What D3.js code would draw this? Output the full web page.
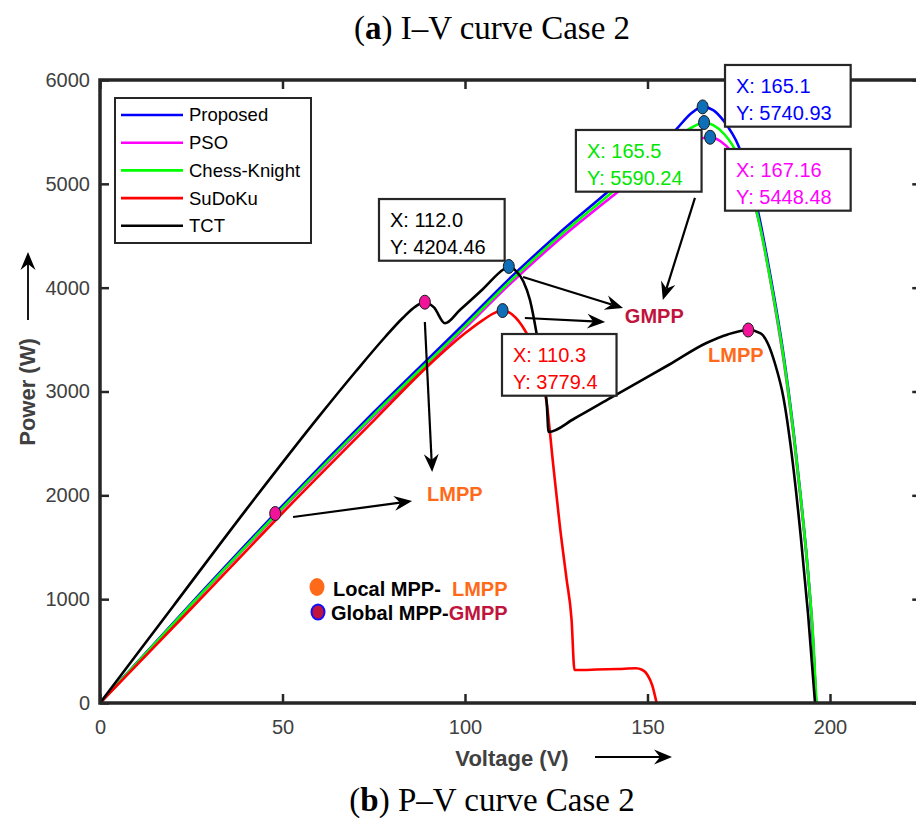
<!DOCTYPE html>
<html>
<head>
<meta charset="utf-8">
<script src="https://cdn.jsdelivr.net/npm/d3@7"></script>
<style>
  body { margin: 0; background: #fff; }
  svg text { font-family: "Liberation Sans", Arial, sans-serif; }
</style>
</head>
<body>
<svg id="chart" width="916" height="825"></svg>
<script>
// ---- P–V characteristics, Case 2 ----
const seriesNames = ["Proposed", "PSO", "Chess-Knight", "SuDoKu", "TCT"];

const proposedV = [0, 25, 50, 75, 100, 112, 125, 140, 150, 158, 162, 165.1, 168, 171, 175, 180, 184, 187, 190, 192, 194, 195.3, 196.2];
const proposedP = [0, 960, 1900, 2800, 3660, 4080, 4500, 4950, 5260, 5530, 5680, 5740.93, 5710, 5600, 5360, 4780, 4050, 3420, 2620, 1980, 1250, 620, 0];

const psoV = [0, 25, 50, 75, 100, 112, 125, 140, 150, 158, 163, 167.16, 170, 173, 177, 181, 184.5, 187.5, 190, 192, 194, 195.4, 196.2];
const psoP = [0, 945, 1870, 2760, 3610, 4025, 4440, 4870, 5150, 5340, 5420, 5448.48, 5410, 5310, 5060, 4560, 3900, 3250, 2580, 1950, 1240, 600, 0];

const chessV = [0, 25, 50, 75, 100, 112, 125, 140, 150, 158, 162, 165.5, 168, 171, 175, 180, 184, 187, 190, 192, 194, 195.4, 196.3];
const chessP = [0, 950, 1880, 2775, 3630, 4050, 4470, 4910, 5210, 5440, 5540, 5590.24, 5565, 5480, 5260, 4720, 4010, 3390, 2600, 1970, 1250, 610, 0];

const sudokuV = [0, 25, 50, 75, 90, 100, 105, 108, 110.3, 113, 116.4, 119, 121, 122.4, 124, 126, 127.8, 129.2, 130, 136, 142, 146.8, 148.5, 150, 151.3, 152.5];
const sudokuP = [0, 910, 1830, 2720, 3250, 3560, 3690, 3755, 3779.4, 3740, 3590, 3400, 3130, 2886, 2350, 1700, 1200, 800, 318, 322, 328, 334, 320, 270, 170, 0];

const tctV = [0, 20, 40, 60, 70, 78, 83, 86.5, 89, 91.5, 94.5, 98.6, 105, 110.5, 112, 114, 116, 117.8, 119.6, 121.2, 122.4, 122.9, 130, 140, 148, 156, 166, 172, 177.6, 181, 183, 185, 187.2, 189.5, 192, 194, 195.9];
const tctP = [0, 930, 1860, 2760, 3190, 3520, 3710, 3820, 3860, 3810, 3657, 3785, 3990, 4175, 4204.46, 4160, 4060, 3881, 3561, 3200, 2886, 2610, 2740, 2940, 3100, 3260, 3465, 3550, 3592, 3560, 3460, 3260, 2950, 2400, 1600, 850, 0];

// data tips (global peaks) : series index, voltage, power
const tipSeries = [0, 2, 1, 4, 3];
const tipV = [165.1, 165.5, 167.16, 112.0, 110.3];
const tipP = [5740.93, 5590.24, 5448.48, 4204.46, 3779.4];
const tipVText = ["165.1", "165.5", "167.16", "112.0", "110.3"];
const tipPText = ["5740.93", "5590.24", "5448.48", "4204.46", "3779.4"];

// local maxima
const lmppV = [48, 89, 177.6];
const lmppP = [1825, 3860, 3592];

const xTicks = [0, 50, 100, 150, 200];
const yTicks = [0, 1000, 2000, 3000, 4000, 5000, 6000];

// ---- styling ----
const colors = ["#0000FF", "#FF00FF", "#00FF00", "#FF0000", "#000000"];
const tipTextColors = ["#0000FF", "#00E600", "#FF00FF", "#000000", "#FF0000"];
const axisColor = "#262626";
const labelColor = "#404040";
const tipMarkerFill = "#0E6EB8";
const lmppMarkerFill = "#F2139B";
const lmppColor = "#FF6A1A";
const gmppColor = "#C0143C";

const series = [
  { v: proposedV, p: proposedP },
  { v: psoV, p: psoP },
  { v: chessV, p: chessP },
  { v: sudokuV, p: sudokuP },
  { v: tctV, p: tctP }
];

const svg = d3.select("#chart");
svg.append("rect").attr("width", 916).attr("height", 825).attr("fill", "#fff");

const x = d3.scaleLinear().domain([0, 225]).range([100, 921.25]);
const y = d3.scaleLinear().domain([0, 6000]).range([703, 80]);

// titles
svg.append("text")
  .attr("x", 492).attr("y", 39).attr("text-anchor", "middle")
  .style("font-family", "'Liberation Serif', serif").style("font-size", "33px").attr("fill", "#000")
  .html('(<tspan font-weight="bold">a</tspan>) I–V curve Case 2');
svg.append("text")
  .attr("x", 492).attr("y", 811).attr("text-anchor", "middle")
  .style("font-family", "'Liberation Serif', serif").style("font-size", "33px").attr("fill", "#000")
  .html('(<tspan font-weight="bold">b</tspan>) P–V curve Case 2');

// axes with inward ticks
const gx = svg.append("g").attr("transform", `translate(0,${y(0)})`)
  .call(d3.axisBottom(x).tickValues(xTicks).tickSize(-9).tickPadding(16).tickFormat(d3.format("d")));
const gxt = svg.append("g").attr("transform", `translate(0,${y(6000)})`)
  .call(d3.axisTop(x).tickValues(xTicks).tickSize(-9).tickFormat(""));
const gy = svg.append("g").attr("transform", `translate(${x(0)},0)`)
  .call(d3.axisLeft(y).tickValues(yTicks).tickSize(-9).tickPadding(10).tickFormat(d3.format("d")));
const gyr = svg.append("g").attr("transform", `translate(${x(225)},0)`)
  .call(d3.axisRight(y).tickValues(yTicks).tickSize(-9).tickFormat(""));
[gx, gxt, gy, gyr].forEach(g => {
  g.select(".domain").remove();
  g.selectAll(".tick line").attr("stroke", axisColor).attr("stroke-width", 2.5);
  g.selectAll(".tick text").attr("fill", labelColor)
    .style("font-family", "'Liberation Sans', Arial, sans-serif").style("font-size", "20px");
});
gx.selectAll(".tick text").attr("dy", "0.76em");

// curves
const line = d3.line().x(d => d[0]).y(d => d[1]).curve(d3.curveMonotoneX);
const plot = svg.append("g");
series.forEach((s, k) => {
  const pts = s.v.map((v, i) => [x(v), y(s.p[i])]);
  plot.append("path").attr("d", line(pts))
    .attr("fill", "none").attr("stroke", colors[k]).attr("stroke-width", 2.6)
    .attr("stroke-linejoin", "round");
});

// frame
svg.append("rect")
  .attr("x", x(0)).attr("y", y(6000)).attr("width", x(225) - x(0)).attr("height", y(0) - y(6000))
  .attr("fill", "none").attr("stroke", axisColor).attr("stroke-width", 3.5);

// arrow helper: shaft plus notched filled head
function arrow(g, x1, y1, x2, y2, w) {
  const a = Math.atan2(y2 - y1, x2 - x1);
  const L = 18, H = 7.5, N = 12;
  const ca = Math.cos(a), sa = Math.sin(a);
  const bx = x2 - N * ca, by = y2 - N * sa;
  g.append("line").attr("x1", x1).attr("y1", y1).attr("x2", bx).attr("y2", by)
    .attr("stroke", "#000").attr("stroke-width", w || 2.2);
  const p1 = [x2 - L * ca - H * sa, y2 - L * sa + H * ca];
  const p2 = [x2 - L * ca + H * sa, y2 - L * sa - H * ca];
  g.append("path")
    .attr("d", `M${x2},${y2}L${p1[0]},${p1[1]}L${bx},${by}L${p2[0]},${p2[1]}Z`)
    .attr("fill", "#000");
}

// axis titles with arrows
const ann = svg.append("g");
ann.append("text").attr("x", 512).attr("y", 766).attr("text-anchor", "middle")
  .attr("font-weight", "bold").style("font-size", "22px").attr("fill", labelColor).text("Voltage (V)");
arrow(ann, 595, 757, 672, 757, 1.8);
ann.append("text").attr("transform", "translate(35,392) rotate(-90)").attr("text-anchor", "middle")
  .attr("font-weight", "bold").style("font-size", "22px").attr("fill", labelColor).text("Power (W)");
arrow(ann, 28, 320, 28, 252, 1.8);

// pointer arrows (data coordinates)
const arrows = [
  [52.9, 1791, 85.5, 1945],
  [89.0, 3669, 91.0, 2225],
  [115.9, 4103, 143.3, 3804],
  [116.4, 3708, 138.4, 3669],
  [163.0, 4864, 154.2, 3881]
];
arrows.forEach(a => arrow(ann, x(a[0]), y(a[1]), x(a[2]), y(a[3]), 2.2));

// MPP labels
ann.append("text").attr("x", x(143.8)).attr("y", y(3660)).attr("font-weight", "bold")
  .style("font-size", "20px").attr("fill", gmppColor).text("GMPP");
ann.append("text").attr("x", x(166.6)).attr("y", y(3284)).attr("font-weight", "bold")
  .style("font-size", "20px").attr("fill", lmppColor).text("LMPP");
ann.append("text").attr("x", x(89.6)).attr("y", y(1945)).attr("font-weight", "bold")
  .style("font-size", "20px").attr("fill", lmppColor).text("LMPP");

// data tip boxes
const tipAnchor = [[174.25, 5875], [133.4, 5249], [174.25, 5066], [79.45, 4584], [113.15, 3284]];
tipAnchor.forEach((a, i) => {
  const tx = x(a[0]), ty = y(a[1]);
  const g = ann.append("g");
  const r = g.append("rect");
  const t1 = g.append("text").attr("x", tx).attr("y", ty).style("font-size", "20px")
    .attr("fill", tipTextColors[i]).text("X: " + tipVText[i]);
  const t2 = g.append("text").attr("x", tx).attr("y", ty + 26.7).style("font-size", "20px")
    .attr("fill", tipTextColors[i]).text("Y: " + tipPText[i]);
  const w = Math.max(t1.node().getComputedTextLength(), t2.node().getComputedTextLength());
  r.attr("x", tx - 11).attr("y", ty - 28).attr("width", w + 30).attr("height", 26.7 + 35)
    .attr("fill", "#fff").attr("stroke", axisColor).attr("stroke-width", 2.2);
});

// markers
tipV.forEach((v, i) => {
  ann.append("ellipse").attr("cx", x(v)).attr("cy", y(tipP[i])).attr("rx", 5.5).attr("ry", 7)
    .attr("fill", tipMarkerFill).attr("stroke", "#1a1a1a").attr("stroke-width", 1);
});
lmppV.forEach((v, i) => {
  ann.append("ellipse").attr("cx", x(v)).attr("cy", y(lmppP[i])).attr("rx", 5.5).attr("ry", 7)
    .attr("fill", lmppMarkerFill).attr("stroke", "#1a1a1a").attr("stroke-width", 1);
});

// series legend
const leg = svg.append("g");
leg.append("rect").attr("x", 115).attr("y", 98).attr("width", 196).attr("height", 145)
  .attr("fill", "#fff").attr("stroke", axisColor).attr("stroke-width", 2);
seriesNames.forEach((n, i) => {
  const ly = 115 + i * 27.7;
  leg.append("line").attr("x1", 121).attr("x2", 183).attr("y1", ly).attr("y2", ly)
    .attr("stroke", colors[i]).attr("stroke-width", 2.6);
  leg.append("text").attr("x", 189).attr("y", ly).attr("dy", "0.35em")
    .style("font-size", "18.5px").attr("fill", "#000").text(n);
});

// marker key
const key = svg.append("g");
key.append("ellipse").attr("cx", 317).attr("cy", 587).attr("rx", 7.5).attr("ry", 9).attr("fill", lmppColor);
key.append("text").attr("x", 333).attr("y", 596).attr("font-weight", "bold").style("font-size", "20px")
  .attr("fill", "#000").html('Local MPP- <tspan fill="' + lmppColor + '">\u00a0LMPP</tspan>');
key.append("ellipse").attr("cx", 318).attr("cy", 612).attr("rx", 6.5).attr("ry", 7.5)
  .attr("fill", gmppColor).attr("stroke", "#1010FF").attr("stroke-width", 2);
key.append("text").attr("x", 331).attr("y", 620).attr("font-weight", "bold").style("font-size", "20px")
  .attr("fill", "#000").html('Global MPP-<tspan fill="' + gmppColor + '">GMPP</tspan>');
</script>
</body>
</html>
